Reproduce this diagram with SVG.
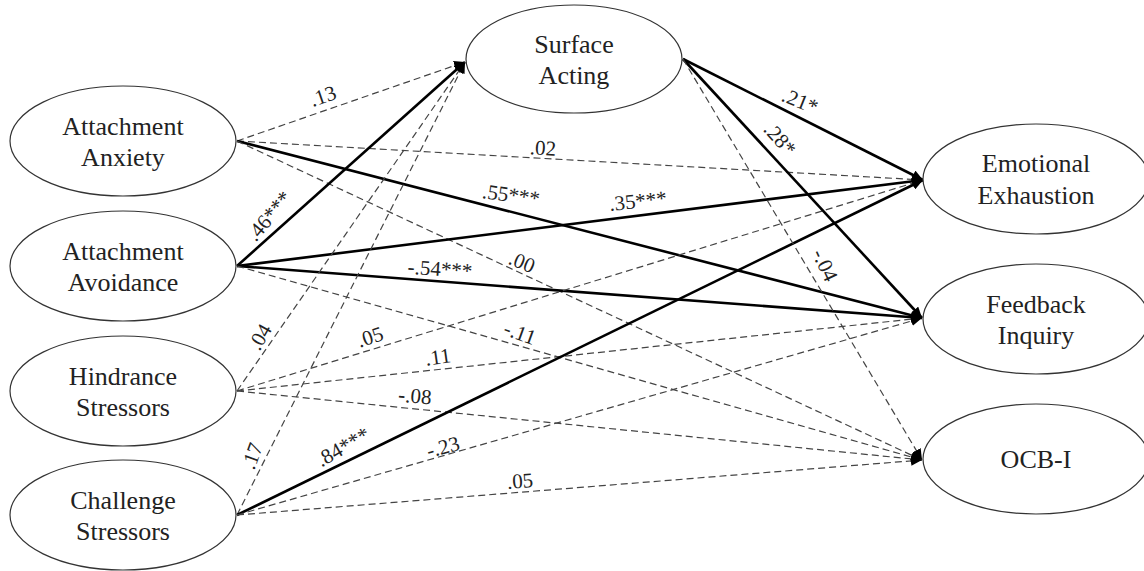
<svg xmlns="http://www.w3.org/2000/svg" width="1144" height="571" viewBox="0 0 1144 571">
<style>
.node ellipse{fill:#fff;stroke:#333;stroke-width:1.2}
.node text{font-family:"Liberation Serif","Times New Roman",serif;font-size:26px;fill:#222;text-anchor:middle}
.s{stroke:#000;stroke-width:2.6;fill:none}
.d{stroke:#444;stroke-width:1.2;stroke-dasharray:7,4;fill:none}
.lbl{font-family:"Liberation Serif","Times New Roman",serif;font-size:21px;fill:#222;text-anchor:middle}
</style>
<defs>
<marker id="ah" markerUnits="userSpaceOnUse" markerWidth="12" markerHeight="10" refX="11" refY="5" orient="auto">
<path d="M0,0 L11,5 L0,10 Z" fill="#000"/>
</marker>
</defs>
<rect width="1144" height="571" fill="#fff"/>
<g id="connectors">
<line class="d" x1="237" y1="141" x2="465" y2="62" marker-end="url(#ah)"/>
<line class="d" x1="237" y1="141" x2="923" y2="180" marker-end="url(#ah)"/>
<line class="s" x1="237" y1="141" x2="922" y2="318" marker-end="url(#ah)"/>
<line class="d" x1="237" y1="141" x2="922" y2="460" marker-end="url(#ah)"/>
<line class="s" x1="237" y1="266" x2="465" y2="62" marker-end="url(#ah)"/>
<line class="s" x1="237" y1="266" x2="923" y2="180" marker-end="url(#ah)"/>
<line class="s" x1="237" y1="266" x2="922" y2="318" marker-end="url(#ah)"/>
<line class="d" x1="237" y1="266" x2="922" y2="460" marker-end="url(#ah)"/>
<line class="d" x1="237" y1="391" x2="465" y2="62" marker-end="url(#ah)"/>
<line class="d" x1="237" y1="391" x2="923" y2="180" marker-end="url(#ah)"/>
<line class="d" x1="237" y1="391" x2="922" y2="318" marker-end="url(#ah)"/>
<line class="d" x1="237" y1="391" x2="922" y2="460" marker-end="url(#ah)"/>
<line class="d" x1="237" y1="515" x2="465" y2="62" marker-end="url(#ah)"/>
<line class="s" x1="237" y1="515" x2="923" y2="180" marker-end="url(#ah)"/>
<line class="d" x1="237" y1="515" x2="922" y2="318" marker-end="url(#ah)"/>
<line class="d" x1="237" y1="515" x2="922" y2="460" marker-end="url(#ah)"/>
<line class="s" x1="683" y1="59" x2="923" y2="180" marker-end="url(#ah)"/>
<line class="s" x1="683" y1="59" x2="922" y2="318" marker-end="url(#ah)"/>
<line class="d" x1="683" y1="59" x2="922" y2="460" marker-end="url(#ah)"/>
</g>
<g id="labels">
<text class="lbl" transform="translate(323,96) rotate(-19)" y="7">.13</text>
<text class="lbl" transform="translate(543,148) rotate(3)" y="7">.02</text>
<text class="lbl" transform="translate(511,195) rotate(8)" y="7">.55***</text>
<text class="lbl" transform="translate(638,201) rotate(-6)" y="7">.35***</text>
<text class="lbl" transform="translate(269,216) rotate(-50)" y="7">.46***</text>
<text class="lbl" transform="translate(440,269) rotate(4)" y="7">-.54***</text>
<text class="lbl" transform="translate(522,262) rotate(22)" y="7">.00</text>
<text class="lbl" transform="translate(520,333) rotate(20)" y="7">-.11</text>
<text class="lbl" transform="translate(260,337) rotate(-60)" y="7">.04</text>
<text class="lbl" transform="translate(370,337) rotate(-18)" y="7">.05</text>
<text class="lbl" transform="translate(438,357) rotate(-8)" y="7">.11</text>
<text class="lbl" transform="translate(415,396) rotate(5)" y="7">-.08</text>
<text class="lbl" transform="translate(252,456) rotate(-70)" y="7">.17</text>
<text class="lbl" transform="translate(343,447) rotate(-30)" y="7">.84***</text>
<text class="lbl" transform="translate(443,447) rotate(-15)" y="7">-.23</text>
<text class="lbl" transform="translate(520,481) rotate(-4)" y="7">.05</text>
<text class="lbl" transform="translate(800,101) rotate(22)" y="7">.21*</text>
<text class="lbl" transform="translate(780,139) rotate(48)" y="7">.28*</text>
<text class="lbl" transform="translate(825,265) rotate(65)" y="7">-.04</text>
</g>
<g id="attachment-anxiety" class="node">
<ellipse cx="123" cy="141" rx="113" ry="55"/>
<text x="123" y="135">Attachment</text>
<text x="123" y="166">Anxiety</text>
</g>
<g id="attachment-avoidance" class="node">
<ellipse cx="123" cy="266" rx="113" ry="55"/>
<text x="123" y="260">Attachment</text>
<text x="123" y="291">Avoidance</text>
</g>
<g id="hindrance-stressors" class="node">
<ellipse cx="123" cy="391" rx="113" ry="55"/>
<text x="123" y="385">Hindrance</text>
<text x="123" y="416">Stressors</text>
</g>
<g id="challenge-stressors" class="node">
<ellipse cx="123" cy="515" rx="113" ry="55"/>
<text x="123" y="509">Challenge</text>
<text x="123" y="540">Stressors</text>
</g>
<g id="surface-acting" class="node">
<ellipse cx="574" cy="59" rx="108" ry="54"/>
<text x="574" y="53">Surface</text>
<text x="574" y="84">Acting</text>
</g>
<g id="emotional-exhaustion" class="node">
<ellipse cx="1036" cy="179" rx="113" ry="55"/>
<text x="1036" y="172">Emotional</text>
<text x="1036" y="204">Exhaustion</text>
</g>
<g id="feedback-inquiry" class="node">
<ellipse cx="1036" cy="319" rx="113" ry="55"/>
<text x="1036" y="313">Feedback</text>
<text x="1036" y="344">Inquiry</text>
</g>
<g id="ocb-i" class="node">
<ellipse cx="1036" cy="459" rx="113" ry="55"/>
<text x="1036" y="468">OCB-I</text>
</g>
</svg>
